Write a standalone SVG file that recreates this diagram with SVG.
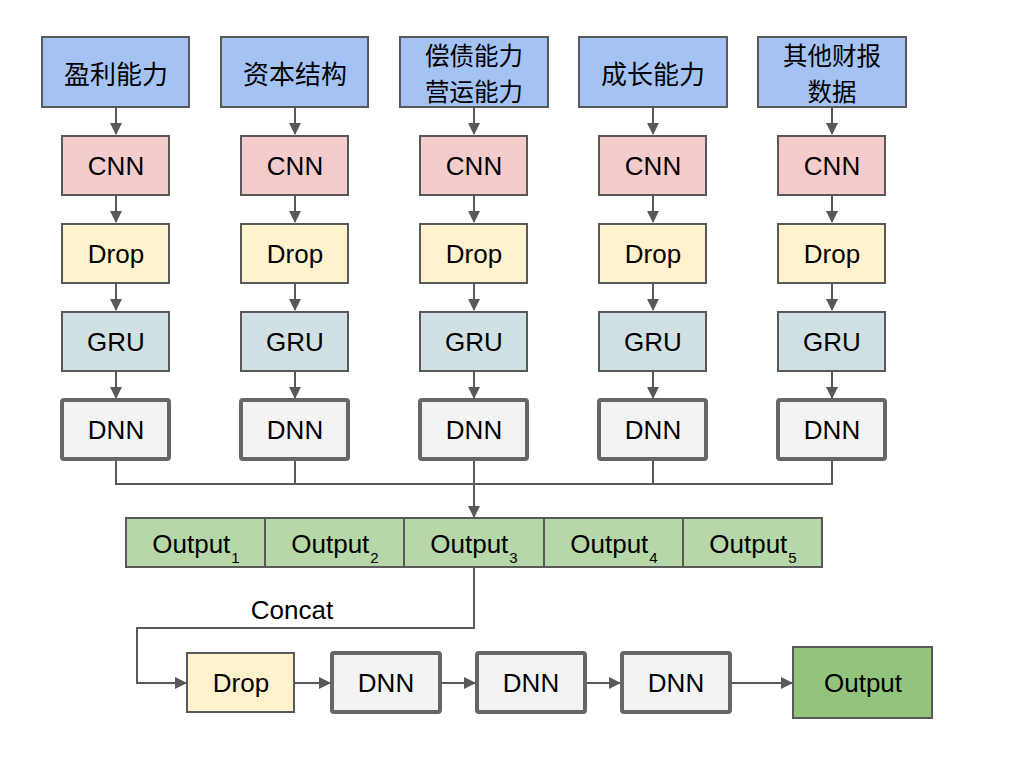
<svg xmlns="http://www.w3.org/2000/svg" width="1024" height="777" viewBox="0 0 1024 777">
<defs>
<marker id="ah" markerWidth="12" markerHeight="12" refX="11" refY="6" orient="auto" markerUnits="userSpaceOnUse">
<path d="M0,0 L12,6 L0,12 Z" fill="#595959"/>
</marker>
<style>
text{font-family:"Liberation Sans","Noto Sans CJK SC",Arial,sans-serif;font-size:26px;fill:#000;text-anchor:middle;dominant-baseline:central}
.cn{font-family:"Noto Sans CJK SC","Liberation Sans",sans-serif;font-size:26px}
.cn2{font-size:24.5px}
.b{stroke:#595959;stroke-width:2}
.top{fill:#a4c2f4}
.cnn{fill:#f4cccc}
.drop{fill:#fff2cc}
.gru{fill:#d0e0e3}
.dnn{fill:#f3f3f3;stroke:#666;stroke-width:4}
.out{fill:#b6d7a8}
.fin{fill:#93c47d}
.c{fill:none;stroke:#595959;stroke-width:2}
.a{fill:none;stroke:#595959;stroke-width:2;marker-end:url(#ah)}
.sub{font-size:15px}
</style>
</defs>
<rect width="1024" height="777" fill="#fff"/>
<g id="connectors">
<path class="a" d="M116,107V134"/><path class="a" d="M116,195V222"/><path class="a" d="M116,283V310"/><path class="a" d="M116,371V398"/>
<path class="a" d="M295,107V134"/><path class="a" d="M295,195V222"/><path class="a" d="M295,283V310"/><path class="a" d="M295,371V398"/>
<path class="a" d="M474,107V134"/><path class="a" d="M474,195V222"/><path class="a" d="M474,283V310"/><path class="a" d="M474,371V398"/>
<path class="a" d="M653,107V134"/><path class="a" d="M653,195V222"/><path class="a" d="M653,283V310"/><path class="a" d="M653,371V398"/>
<path class="a" d="M832,107V134"/><path class="a" d="M832,195V222"/><path class="a" d="M832,283V310"/><path class="a" d="M832,371V398"/>
<path class="c" d="M116,459V484H832V459M295,459V484M474,459V484M653,459V484"/>
<path class="a" d="M474,484V517"/>
<path class="a" d="M474,567V628H137V683H186"/>
<path class="a" d="M294,683H330"/>
<path class="a" d="M440,683H475"/>
<path class="a" d="M585,683H620"/>
<path class="a" d="M730,683H792"/>
</g>
<g id="col1">
<g id="in1"><rect class="b top" x="42" y="37" width="147" height="70"/><text class="cn" x="116" y="72">盈利能力</text></g>
<g id="cnn1"><rect class="b cnn" x="62" y="136" width="107" height="59"/><text x="116" y="166">CNN</text></g>
<g id="drop1"><rect class="b drop" x="62" y="224" width="107" height="59"/><text x="116" y="254">Drop</text></g>
<g id="gru1"><rect class="b gru" x="62" y="312" width="107" height="59"/><text x="116" y="342">GRU</text></g>
<g id="dnn1"><rect class="dnn" x="62" y="400" width="107" height="59" rx="2"/><text x="116" y="430">DNN</text></g>
</g>
<g id="col2">
<g id="in2"><rect class="b top" x="221" y="37" width="147" height="70"/><text class="cn" x="295" y="72">资本结构</text></g>
<g id="cnn2"><rect class="b cnn" x="241" y="136" width="107" height="59"/><text x="295" y="166">CNN</text></g>
<g id="drop2"><rect class="b drop" x="241" y="224" width="107" height="59"/><text x="295" y="254">Drop</text></g>
<g id="gru2"><rect class="b gru" x="241" y="312" width="107" height="59"/><text x="295" y="342">GRU</text></g>
<g id="dnn2"><rect class="dnn" x="241" y="400" width="107" height="59" rx="2"/><text x="295" y="430">DNN</text></g>
</g>
<g id="col3">
<g id="in3"><rect class="b top" x="400" y="37" width="148" height="70"/><text class="cn cn2" x="474" y="54">偿债能力<tspan x="474" dy="35.5">营运能力</tspan></text></g>
<g id="cnn3"><rect class="b cnn" x="420" y="136" width="107" height="59"/><text x="474" y="166">CNN</text></g>
<g id="drop3"><rect class="b drop" x="420" y="224" width="107" height="59"/><text x="474" y="254">Drop</text></g>
<g id="gru3"><rect class="b gru" x="420" y="312" width="107" height="59"/><text x="474" y="342">GRU</text></g>
<g id="dnn3"><rect class="dnn" x="420" y="400" width="107" height="59" rx="2"/><text x="474" y="430">DNN</text></g>
</g>
<g id="col4">
<g id="in4"><rect class="b top" x="579" y="37" width="148" height="70"/><text class="cn" x="653" y="72">成长能力</text></g>
<g id="cnn4"><rect class="b cnn" x="599" y="136" width="107" height="59"/><text x="653" y="166">CNN</text></g>
<g id="drop4"><rect class="b drop" x="599" y="224" width="107" height="59"/><text x="653" y="254">Drop</text></g>
<g id="gru4"><rect class="b gru" x="599" y="312" width="107" height="59"/><text x="653" y="342">GRU</text></g>
<g id="dnn4"><rect class="dnn" x="599" y="400" width="107" height="59" rx="2"/><text x="653" y="430">DNN</text></g>
</g>
<g id="col5">
<g id="in5"><rect class="b top" x="758" y="37" width="148" height="70"/><text class="cn cn2" x="832" y="54">其他财报<tspan x="832" dy="35.5">数据</tspan></text></g>
<g id="cnn5"><rect class="b cnn" x="778" y="136" width="107" height="59"/><text x="832" y="166">CNN</text></g>
<g id="drop5"><rect class="b drop" x="778" y="224" width="107" height="59"/><text x="832" y="254">Drop</text></g>
<g id="gru5"><rect class="b gru" x="778" y="312" width="107" height="59"/><text x="832" y="342">GRU</text></g>
<g id="dnn5"><rect class="dnn" x="778" y="400" width="107" height="59" rx="2"/><text x="832" y="430">DNN</text></g>
</g>
<g id="outputs">
<g id="o1"><rect class="b out" x="126" y="518" width="139" height="49"/><text x="196" y="544">Output<tspan class="sub" dx="1" dy="13">1</tspan></text></g>
<g id="o2"><rect class="b out" x="265" y="518" width="139" height="49"/><text x="335" y="544">Output<tspan class="sub" dx="1" dy="13">2</tspan></text></g>
<g id="o3"><rect class="b out" x="404" y="518" width="140" height="49"/><text x="474" y="544">Output<tspan class="sub" dx="1" dy="13">3</tspan></text></g>
<g id="o4"><rect class="b out" x="544" y="518" width="139" height="49"/><text x="614" y="544">Output<tspan class="sub" dx="1" dy="13">4</tspan></text></g>
<g id="o5"><rect class="b out" x="683" y="518" width="139" height="49"/><text x="753" y="544">Output<tspan class="sub" dx="1" dy="13">5</tspan></text></g>
</g>
<text id="concat" x="292" y="610">Concat</text>
<g id="bdrop"><rect class="b drop" x="187" y="653" width="107" height="59"/><text x="241" y="683">Drop</text></g>
<g id="bdnn1"><rect class="dnn" x="332" y="653" width="108" height="59" rx="2"/><text x="386" y="683">DNN</text></g>
<g id="bdnn2"><rect class="dnn" x="477" y="653" width="108" height="59" rx="2"/><text x="531" y="683">DNN</text></g>
<g id="bdnn3"><rect class="dnn" x="622" y="653" width="108" height="59" rx="2"/><text x="676" y="683">DNN</text></g>
<g id="final"><rect class="b fin" x="793" y="647" width="139" height="71"/><text x="863" y="683">Output</text></g>
</svg>
